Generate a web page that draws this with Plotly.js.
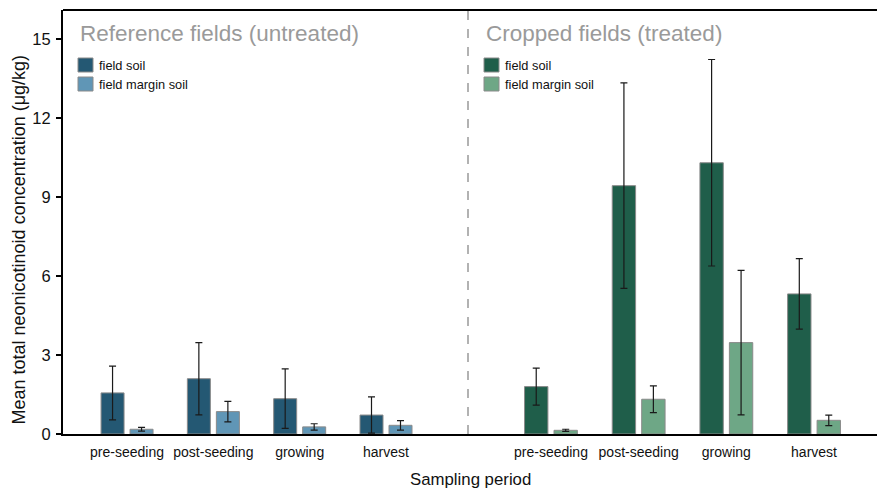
<!DOCTYPE html>
<html><head><meta charset="utf-8">
<script src="https://cdn.plot.ly/plotly-3.0.1.min.js"></script>
<style>html,body{margin:0;padding:0;background:#fff}</style>
</head><body><div id="chart" style="width:877px;height:491px"></div>
<script>
const periods = ["pre-seeding", "post-seeding", "growing", "harvest"];
const refField = [1.56, 2.10, 1.34, 0.72];
const refFieldErr = [1.02, 1.37, 1.13, 0.69];
const refMargin = [0.18, 0.85, 0.27, 0.33];
const refMarginErr = [0.07, 0.39, 0.12, 0.18];
const cropField = [1.80, 9.43, 10.30, 5.32];
const cropFieldErr = [0.70, 3.90, 3.92, 1.34];
const cropMargin = [0.14, 1.32, 3.47, 0.52];
const cropMarginErr = [0.04, 0.51, 2.74, 0.20];
const groupTitles = ["Reference fields (untreated)", "Cropped fields (treated)"];
const seriesNames = ["field soil", "field margin soil"];
const yTitle = "Mean total neonicotinoid concentration (μg/kg)";
const xTitle = "Sampling period";
const yTicks = [0, 3, 6, 9, 12, 15];

const colors = {refField: "#245873", refMargin: "#6096b6", cropField: "#1f5e4a", cropMargin: "#6ea786"};
const W = 877, H = 491, L = 63, R = 0, T = 10, B = 57;
const pw = W - L - R, ph = H - T - B;
const PX = p => (p - L) / pw;
const PY = p => (H - B - p) / ph;
const split = PX(468);

function bar(name, xs, ys, errs, color, xaxis) {
  return {
    type: "bar", name: name, x: xs, y: ys, xaxis: xaxis, yaxis: "y",
    marker: {color: color, line: {color: "#8a8a8a", width: 1}},
    error_y: {type: "data", array: errs, visible: true, color: "#1a1a1a", thickness: 1.2, width: 3.5},
    showlegend: false, hoverinfo: "x+y"
  };
}

const data = [
  bar(seriesNames[0], periods, refField, refFieldErr, colors.refField, "x"),
  bar(seriesNames[1], periods, refMargin, refMarginErr, colors.refMargin, "x"),
  bar(seriesNames[0], periods, cropField, cropFieldErr, colors.cropField, "x2"),
  bar(seriesNames[1], periods, cropMargin, cropMarginErr, colors.cropMargin, "x2")
];

const fontH = "Liberation Sans, Arial, sans-serif";
const shapes = [
  {type: "line", xref: "paper", yref: "paper", x0: 0, x1: 1, y0: 1, y1: 1, line: {color: "#000", width: 2}},
  {type: "line", xref: "paper", yref: "paper", x0: split, x1: split, y0: 0, y1: 1, line: {color: "#999", width: 1.5, dash: "dash"}}
];
const legendDefs = [
  {x: 78, names: seriesNames, cols: [colors.refField, colors.refMargin]},
  {x: 484, names: seriesNames, cols: [colors.cropField, colors.cropMargin]}
];
const annotations = [];
legendDefs.forEach((lg, gi) => {
  [[58, 72], [77, 91]].forEach((yy, i) => {
    shapes.push({type: "rect", xref: "paper", yref: "paper", x0: PX(lg.x), x1: PX(lg.x + 15), y0: PY(yy[1]), y1: PY(yy[0]),
      fillcolor: lg.cols[i], line: {color: "#8a8a8a", width: 1}});
    annotations.push({xref: "paper", yref: "paper", x: PX(lg.x + 19), y: PY((yy[0] + yy[1]) / 2), xanchor: "left", yanchor: "middle",
      text: lg.names[i], showarrow: false, font: {family: fontH, size: 12.8, color: "#111"}});
  });
  annotations.push({xref: "paper", yref: "paper", x: PX(lg.x + 0), y: PY(34), xanchor: "left", yanchor: "middle",
    text: groupTitles[gi], showarrow: false, font: {family: fontH, size: 22.5, color: "#9a9a9a"}});
});
annotations.push({xref: "paper", yref: "paper", x: 0.5, y: PY(480), xanchor: "center", yanchor: "middle",
  text: xTitle, showarrow: false, font: {family: fontH, size: 16.8, color: "#111"}});
annotations.push({xref: "paper", yref: "paper", x: PX(18.5), y: PY(240), xanchor: "center", yanchor: "middle",
  textangle: -90, text: yTitle, showarrow: false, font: {family: fontH, size: 18, color: "#111"}});

const xCommon = {type: "category", showline: true, linecolor: "#000", linewidth: 2, ticks: "", showgrid: false,
  zeroline: false, tickangle: 0, tickfont: {family: fontH, size: 14, color: "#111"}, fixedrange: true, anchor: "y",
  ticklabelstandoff: 4};

const layout = {
  width: W, height: H, margin: {l: L, r: R, t: T, b: B, pad: 0},
  paper_bgcolor: "#fff", plot_bgcolor: "#fff",
  barmode: "group", bargap: 0.328, bargroupgap: 0.207,
  showlegend: false,
  xaxis: Object.assign({}, xCommon, {domain: [0, split], range: [-0.742, 3.95]}),
  xaxis2: Object.assign({}, xCommon, {domain: [split, 1], range: [-0.946, 3.718]}),
  yaxis: {range: [0, 16.1], tickvals: yTicks, ticks: "outside", ticklen: 5, tickwidth: 1.5, tickcolor: "#000",
    showline: true, linecolor: "#000", linewidth: 2, showgrid: false, zeroline: false, fixedrange: true,
    tickfont: {family: fontH, size: 16.5, color: "#111"}, ticklabelstandoff: 2},
  shapes: shapes, annotations: annotations
};

Plotly.newPlot("chart", data, layout, {displayModeBar: false, staticPlot: true});
</script></body></html>
